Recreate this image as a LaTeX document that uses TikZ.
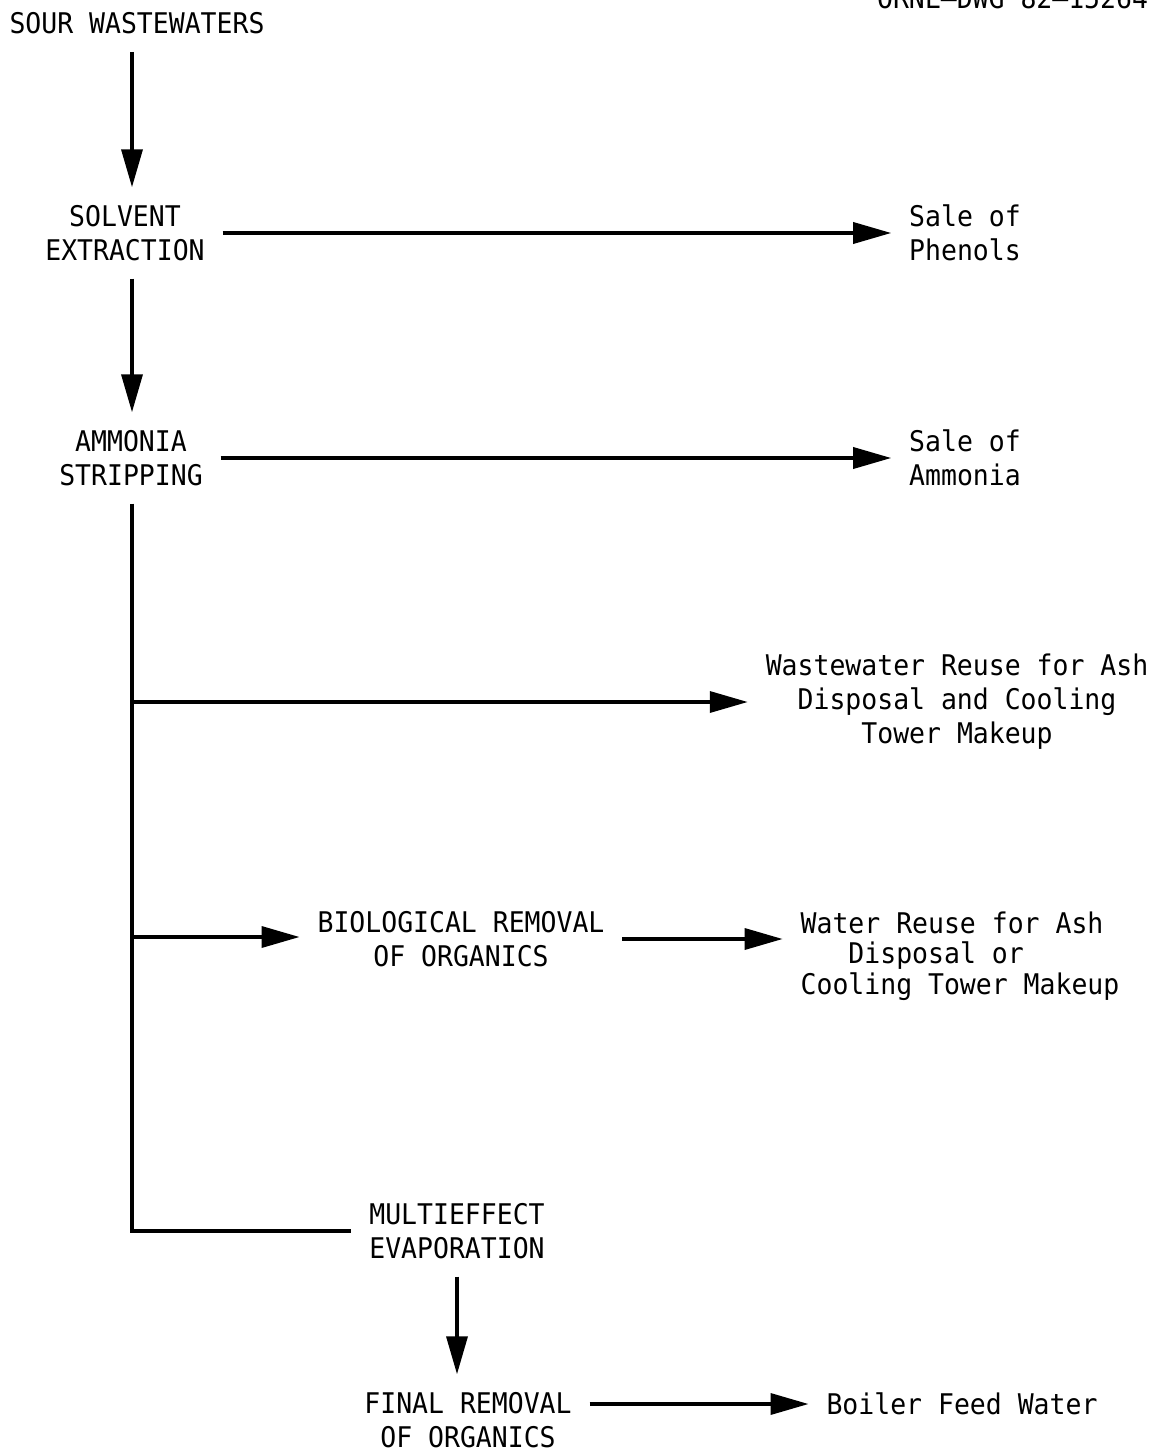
\documentclass[tikz,border=0pt]{standalone}
\usepackage{fontspec}
\setmainfont[FakeStretch=0.93]{DejaVu Sans Mono}
\usetikzlibrary{arrows.meta}

\begin{document}
\begin{tikzpicture}[x=0.02cm, y=-0.02cm,
    txt/.style={inner sep=0pt, outer sep=0.36cm, align=center, font=\fontsize{16.2pt}{19.3pt}\selectfont},
    arrow/.style={-{Triangle[length=0.76cm, width=0.42cm]}, line width=2pt},
    pipe/.style={line width=2pt}]
  \useasboundingbox (0,0) rectangle (1156,1453);
  \node[txt, anchor=base east, outer sep=0pt] (dwg) at (1148,9) {ORNL–DWG 82–15264};
  \node[txt] (sour) at (137,23) {SOUR WASTEWATERS};
  \node[txt] (solvent) at (125,233) {SOLVENT\\EXTRACTION};
  \node[txt, align=left] (phenols) at (965,233) {Sale of\\Phenols};
  \node[txt] (ammonia) at (131,458) {AMMONIA\\STRIPPING};
  \node[txt, align=left] (ammsale) at (965,458) {Sale of\\Ammonia};
  \node[txt] (wwreuse) at (957,702) {Wastewater Reuse for Ash\\Disposal and Cooling\\Tower Makeup};
  \node[txt] (bio) at (461,939) {BIOLOGICAL REMOVAL\\OF ORGANICS};
  \node[txt, align=left, font=\fontsize{16.2pt}{17.4pt}\selectfont] (wreuse) at (960,956)
    {Water Reuse for Ash\\\phantom{Wat}Disposal or\\Cooling Tower Makeup};
  \node[txt] (multi) at (457,1231) {MULTIEFFECT\\EVAPORATION};
  \node[txt] (final) at (468,1420) {FINAL REMOVAL\\OF ORGANICS};
  \node[txt] (boiler) at (962,1404) {Boiler Feed Water};
  % main column
  \coordinate (col) at (132,0);
  \coordinate (br1) at (132,702);
  \coordinate (br2) at (132,937);
  \draw[arrow] (sour.south -| col) -- (solvent.north -| col);
  \draw[arrow] (solvent.south -| col) -- (ammonia.north -| col);
  \draw[arrow] (solvent.east) -- (phenols.west);
  \draw[arrow] (ammonia.east) -- (ammsale.west);
  \draw[pipe] (ammonia.south -| col) -- (col |- multi.west) -- (multi.west);
  \draw[arrow] (br1) -- (wwreuse.west |- br1);
  \draw[arrow] (br2) -- (bio.west |- br2);
  \draw[arrow] (bio.east) -- (wreuse.west |- bio.east);
  \draw[arrow] (multi.south) -- (multi.south |- final.north);
  \draw[arrow] (final.east |- boiler.west) -- (boiler.west);
\end{tikzpicture}
\end{document}
